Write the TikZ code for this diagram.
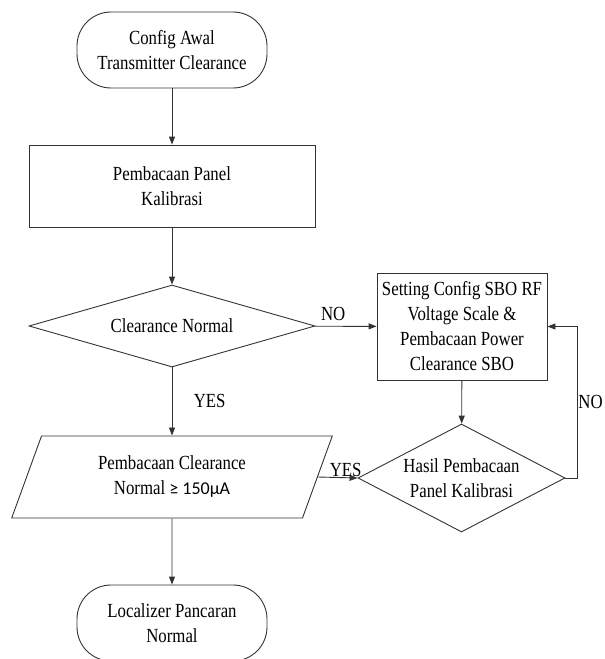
\documentclass[tikz,border=0pt]{standalone}
\usepackage{fontspec}
\setmainfont{Liberation Serif}[FakeStretch=0.84]
\newfontfamily\symfont{Carlito}
\usetikzlibrary{shapes.geometric,arrows.meta}

\begin{document}
\begin{tikzpicture}[x=1pt,y=-1pt,line width=0.9pt,
  font=\fontsize{20}{25}\selectfont,
  >={Triangle[length=8pt,width=6pt]},
  terminal/.style={draw=black!80,rounded corners=34pt,minimum width=190pt,minimum height=76pt,align=center},
  process/.style={draw=black!80,align=center},
  decision/.style={draw=black!80,diamond,inner sep=0pt,align=center},
  io/.style={draw=black!80,trapezium,trapezium left angle=70,trapezium right angle=110,
    minimum height=82pt,minimum width=318pt,align=center},
  flow/.style={draw=black!80,->}]
  \useasboundingbox (0,0) rectangle (605,659);
  % start of the procedure:
  \node[terminal] (start) at (172,50) {Config Awal\\Transmitter Clearance};
  % first reading:
  \node[process,minimum width=286pt,minimum height=82pt] (panel) at (172,186) {Pembacaan Panel\\Kalibrasi};
  % first check:
  \node[decision,minimum width=286pt,minimum height=82pt,aspect=3.5] (normal) at (172,326) {Clearance Normal};
  % setting of the SBO side:
  \node[process,minimum width=170pt,minimum height=107pt] (setting) at (462,326.5)
    {Setting Config SBO RF\\Voltage Scale \&\\Pembacaan Power\\Clearance SBO};
  % second check:
  \node[decision,minimum width=207pt,minimum height=108pt,aspect=1.9] (hasil) at (461.5,478)
    {Hasil Pembacaan\\Panel Kalibrasi};
  % reading of the result:
  \node[io] (baca) at (172,477) {Pembacaan Clearance\\Normal {\symfont\fontsize{18}{25}\selectfont ≥ 150µA}};
  % end of the procedure:
  \node[terminal] (selesai) at (172,623) {Localizer Pancaran\\Normal};
  % corner of the loop back:
  \coordinate (loop) at (577,478);
  % connectors:
  \draw[flow] (start) -- (panel);
  \draw[flow] (panel) -- (normal);
  \draw[flow] (normal) -- (setting) node[pos=0.3,above,yshift=2pt] {NO};
  \draw[flow] (normal) -- (baca) node[midway,right,xshift=18pt,yshift=1pt] {YES};
  \draw[flow] (setting) -- (hasil);
  \draw[flow] (baca.east) -- (hasil.west) node[midway,above,xshift=8pt,yshift=-3pt] {YES};
  \draw[flow] (hasil.east) -- (loop) |- (setting.east) node[pos=0.25,right,inner sep=1pt] {NO};
  \draw[flow] (baca) -- (selesai);
\end{tikzpicture}
\end{document}
